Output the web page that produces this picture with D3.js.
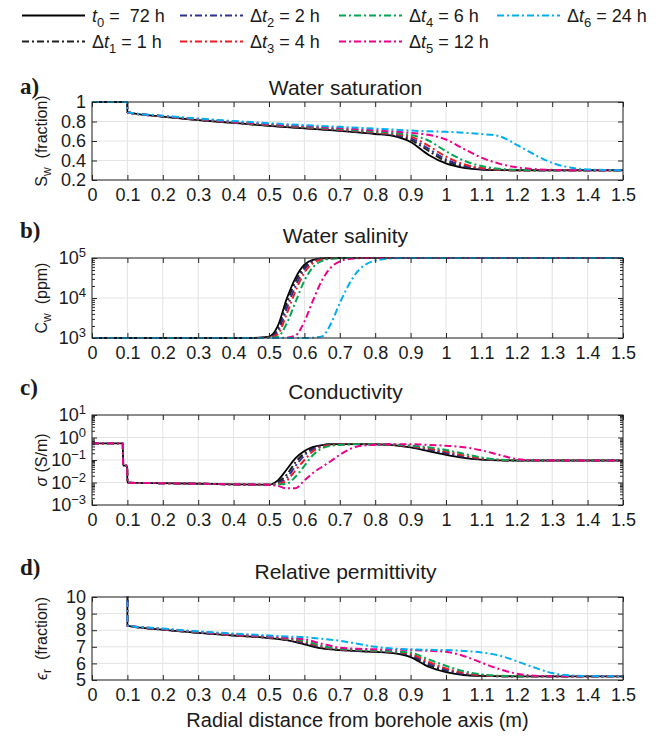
<!DOCTYPE html>
<html>
<head>
<meta charset="utf-8">
<script src="https://cdn.jsdelivr.net/npm/d3@7"></script>
<style>
  body { margin: 0; background: #fff; }
  svg { display: block; font-family: "Liberation Sans", Arial, sans-serif; }
  text { white-space: pre; }
</style>
</head>
<body>
<svg id="chart" width="664" height="736"></svg>
<script>
// legend entries (t0 then the time steps)
const seriesKeys = ["t0", "dt1", "dt2", "dt3", "dt4", "dt5", "dt6"];
const legendSubs = ["0", "1", "2", "3", "4", "5", "6"];
const legendHours = [" =  72 h", " = 1 h", " = 2 h", " = 4 h", " = 6 h", " = 12 h", " = 24 h"];

// shared x ticks (m)
const xTicks = [0, 0.1, 0.2, 0.3, 0.4, 0.5, 0.6, 0.7, 0.8, 0.9, 1, 1.1, 1.2, 1.3, 1.4, 1.5];

// a) water saturation (fraction)
const xSat = [0, 0.099, 0.1, 0.2, 0.3, 0.4, 0.5, 0.6, 0.7, 0.8, 0.85, 0.9, 0.95, 1.0, 1.05, 1.1, 1.15, 1.2, 1.25, 1.3, 1.35, 1.4, 1.5];
const satT0 = [1, 1, 0.895, 0.850, 0.815, 0.785, 0.756, 0.730, 0.703, 0.672, 0.652, 0.590, 0.460, 0.370, 0.325, 0.306, 0.301, 0.300, 0.300, 0.300, 0.300, 0.300, 0.300];
const satDt1 = [1, 1, 0.895, 0.851, 0.817, 0.787, 0.758, 0.733, 0.707, 0.677, 0.658, 0.612, 0.500, 0.392, 0.336, 0.311, 0.302, 0.300, 0.300, 0.300, 0.300, 0.300, 0.300];
const satDt2 = [1, 1, 0.895, 0.852, 0.818, 0.789, 0.761, 0.736, 0.711, 0.682, 0.665, 0.628, 0.522, 0.412, 0.347, 0.316, 0.304, 0.300, 0.300, 0.300, 0.300, 0.300, 0.300];
const satDt3 = [1, 1, 0.895, 0.853, 0.820, 0.791, 0.764, 0.740, 0.716, 0.688, 0.672, 0.645, 0.552, 0.440, 0.362, 0.322, 0.306, 0.301, 0.300, 0.300, 0.300, 0.300, 0.300];
const satDt4 = [1, 1, 0.895, 0.855, 0.822, 0.794, 0.768, 0.745, 0.722, 0.696, 0.682, 0.662, 0.605, 0.495, 0.400, 0.343, 0.315, 0.304, 0.301, 0.300, 0.300, 0.300, 0.300];
const satDt5 = [1, 1, 0.895, 0.857, 0.825, 0.798, 0.774, 0.753, 0.732, 0.710, 0.698, 0.684, 0.664, 0.615, 0.520, 0.430, 0.368, 0.330, 0.312, 0.304, 0.301, 0.300, 0.300];
const satDt6 = [1, 1, 0.895, 0.860, 0.830, 0.805, 0.783, 0.763, 0.745, 0.727, 0.717, 0.707, 0.700, 0.694, 0.685, 0.672, 0.650, 0.560, 0.460, 0.375, 0.328, 0.308, 0.300];

// b) water salinity (ppm)
const xSal = [0, 0.45, 0.5, 0.525, 0.55, 0.575, 0.6, 0.625, 0.65, 0.675, 0.7, 0.725, 0.75, 0.775, 0.8, 0.85, 0.9, 1.0, 1.5];
const salT0 = [1000, 1000, 1080, 2000, 9500, 32000, 68000, 90000, 98000, 100000, 100000, 100000, 100000, 100000, 100000, 100000, 100000, 100000, 100000];
const salDt1 = [1000, 1000, 1050, 1700, 7500, 26000, 60000, 86000, 97000, 99500, 100000, 100000, 100000, 100000, 100000, 100000, 100000, 100000, 100000];
const salDt2 = [1000, 1000, 1030, 1450, 5500, 20000, 52000, 81000, 95000, 99000, 100000, 100000, 100000, 100000, 100000, 100000, 100000, 100000, 100000];
const salDt3 = [1000, 1000, 1020, 1250, 4000, 15000, 43000, 75000, 92000, 98500, 99800, 100000, 100000, 100000, 100000, 100000, 100000, 100000, 100000];
const salDt4 = [1000, 1000, 1000, 1080, 2300, 8000, 27000, 60000, 85000, 96000, 99300, 100000, 100000, 100000, 100000, 100000, 100000, 100000, 100000];
const salDt5 = [1000, 1000, 1000, 1000, 1020, 1150, 2600, 9000, 28000, 58000, 82000, 94000, 98500, 99700, 100000, 100000, 100000, 100000, 100000];
const salDt6 = [1000, 1000, 1000, 1000, 1000, 1000, 1000, 1020, 1100, 2300, 7500, 21000, 46000, 70000, 86000, 98000, 99800, 100000, 100000];

// c) conductivity (S/m), no 24 h curve
const xCon = [0, 0.087, 0.088, 0.099, 0.1, 0.2, 0.3, 0.4, 0.5, 0.525, 0.55, 0.575, 0.6, 0.625, 0.65, 0.675, 0.7, 0.75, 0.8, 0.85, 0.9, 0.95, 1.0, 1.05, 1.1, 1.15, 1.2, 1.25, 1.3, 1.5];
const conT0 = [0.55, 0.55, 0.056, 0.056, 0.0098, 0.0093, 0.0088, 0.0083, 0.0080, 0.0125, 0.038, 0.12, 0.25, 0.38, 0.46, 0.50, 0.51, 0.51, 0.50, 0.46, 0.36, 0.25, 0.17, 0.125, 0.105, 0.097, 0.095, 0.095, 0.095, 0.095];
const conDt1 = [0.55, 0.55, 0.056, 0.056, 0.0098, 0.0093, 0.0088, 0.0083, 0.0079, 0.0105, 0.022, 0.08, 0.20, 0.34, 0.44, 0.49, 0.505, 0.51, 0.50, 0.47, 0.38, 0.28, 0.19, 0.135, 0.108, 0.098, 0.095, 0.095, 0.095, 0.095];
const conDt2 = [0.55, 0.55, 0.056, 0.056, 0.0098, 0.0093, 0.0088, 0.0083, 0.0079, 0.0095, 0.016, 0.055, 0.16, 0.30, 0.42, 0.48, 0.50, 0.51, 0.505, 0.475, 0.40, 0.30, 0.21, 0.145, 0.112, 0.099, 0.095, 0.095, 0.095, 0.095];
const conDt3 = [0.55, 0.55, 0.056, 0.056, 0.0098, 0.0093, 0.0088, 0.0083, 0.0079, 0.0088, 0.012, 0.035, 0.10, 0.25, 0.39, 0.46, 0.49, 0.51, 0.505, 0.48, 0.42, 0.33, 0.24, 0.16, 0.118, 0.101, 0.096, 0.095, 0.095, 0.095];
const conDt4 = [0.55, 0.55, 0.056, 0.056, 0.0098, 0.0093, 0.0088, 0.0083, 0.0078, 0.0082, 0.0088, 0.018, 0.055, 0.17, 0.33, 0.43, 0.47, 0.50, 0.505, 0.49, 0.44, 0.37, 0.28, 0.19, 0.13, 0.105, 0.097, 0.095, 0.095, 0.095];
const conDt5 = [0.55, 0.55, 0.056, 0.056, 0.0098, 0.0093, 0.0088, 0.0083, 0.0077, 0.0070, 0.0055, 0.0056, 0.0125, 0.027, 0.05, 0.09, 0.17, 0.40, 0.48, 0.50, 0.50, 0.47, 0.43, 0.37, 0.27, 0.17, 0.11, 0.097, 0.095, 0.095];

// d) relative permittivity (borehole values run off the top)
const xPer = [0, 0.099, 0.1, 0.2, 0.3, 0.4, 0.5, 0.55, 0.6, 0.65, 0.7, 0.75, 0.8, 0.85, 0.9, 0.95, 1.0, 1.05, 1.1, 1.15, 1.2, 1.25, 1.3, 1.35, 1.4, 1.5];
const perT0 = [80, 80, 8.28, 8.03, 7.84, 7.68, 7.53, 7.40, 7.15, 6.90, 6.80, 6.74, 6.69, 6.62, 6.38, 5.80, 5.48, 5.30, 5.25, 5.23, 5.22, 5.22, 5.22, 5.22, 5.22, 5.22];
const perDt1 = [80, 80, 8.28, 8.04, 7.85, 7.69, 7.54, 7.42, 7.20, 6.93, 6.82, 6.76, 6.71, 6.65, 6.45, 5.90, 5.55, 5.34, 5.26, 5.23, 5.22, 5.22, 5.22, 5.22, 5.22, 5.22];
const perDt2 = [80, 80, 8.28, 8.05, 7.86, 7.70, 7.55, 7.44, 7.25, 6.96, 6.84, 6.78, 6.73, 6.68, 6.50, 6.00, 5.62, 5.38, 5.27, 5.23, 5.22, 5.22, 5.22, 5.22, 5.22, 5.22];
const perDt3 = [80, 80, 8.28, 8.06, 7.87, 7.71, 7.57, 7.46, 7.30, 7.00, 6.86, 6.80, 6.75, 6.71, 6.57, 6.10, 5.70, 5.43, 5.29, 5.24, 5.22, 5.22, 5.22, 5.22, 5.22, 5.22];
const perDt4 = [80, 80, 8.28, 8.07, 7.88, 7.73, 7.59, 7.49, 7.36, 7.05, 6.88, 6.82, 6.77, 6.73, 6.65, 6.25, 5.85, 5.53, 5.34, 5.26, 5.23, 5.22, 5.22, 5.22, 5.22, 5.22];
const perDt5 = [80, 80, 8.28, 8.08, 7.90, 7.75, 7.62, 7.53, 7.45, 7.18, 6.95, 6.88, 6.85, 6.83, 6.80, 6.76, 6.70, 6.45, 6.05, 5.66, 5.38, 5.26, 5.23, 5.22, 5.22, 5.22];
const perDt6 = [80, 80, 8.28, 8.10, 7.93, 7.80, 7.68, 7.62, 7.58, 7.48, 7.36, 7.18, 7.00, 6.90, 6.85, 6.82, 6.80, 6.75, 6.66, 6.48, 6.13, 5.75, 5.42, 5.28, 5.24, 5.22];

// line styles per series
const styleOf = {
  t0: { color: "#000000", dash: null, width: 1.8 },
  dt1: { color: "#231f20", dash: "7,3,2,3", width: 2 },
  dt2: { color: "#2e3192", dash: "7,3,2,3", width: 2 },
  dt3: { color: "#ed1c24", dash: "7,3,2,3", width: 2 },
  dt4: { color: "#00a651", dash: "7,3,2,3", width: 2 },
  dt5: { color: "#ec008c", dash: "7,3,2,3", width: 2 },
  dt6: { color: "#00aeef", dash: "7,3,2,3", width: 2 }
};

const svg = d3.select("#chart");
const left = 92;
const right = 623;
const axisColor = "#262626";
const gridColor = "#e3e3e3";

const x = d3.scaleLinear().domain([0, 1.5]).range([left, right]);

const panels = [
  {
    letter: "a)", title: "Water saturation", top: 102, height: 78, titleY: 95, letterY: 94,
    log: false, domain: [0.2, 1], yTicks: [0.2, 0.4, 0.6, 0.8, 1],
    ylabel: ["S", "w", "  (fraction)"], xs: xSat,
    keys: seriesKeys, rows: [satT0, satDt1, satDt2, satDt3, satDt4, satDt5, satDt6]
  },
  {
    letter: "b)", title: "Water salinity", top: 258, height: 80, titleY: 243, letterY: 238,
    log: true, domain: [1e3, 1e5], yTicks: [1e3, 1e4, 1e5],
    ylabel: ["C", "w", "  (ppm)"], xs: xSal,
    keys: seriesKeys, rows: [salT0, salDt1, salDt2, salDt3, salDt4, salDt5, salDt6]
  },
  {
    letter: "c)", title: "Conductivity", top: 415, height: 90, titleY: 399, letterY: 395,
    log: true, domain: [1e-3, 1e1], yTicks: [1e-3, 1e-2, 1e-1, 1e0, 1e1],
    ylabel: ["σ", "", " (S/m)"], xs: xCon,
    keys: seriesKeys.slice(0, 6), rows: [conT0, conDt1, conDt2, conDt3, conDt4, conDt5]
  },
  {
    letter: "d)", title: "Relative permittivity", top: 597, height: 83, titleY: 579, letterY: 575,
    log: false, domain: [5, 10], yTicks: [5, 6, 7, 8, 9, 10],
    ylabel: ["ϵ", "r", "  (fraction)"], xs: xPer,
    keys: seriesKeys, rows: [perT0, perDt1, perDt2, perDt3, perDt4, perDt5, perDt6]
  }
];

const styleAxis = g => {
  g.select(".domain").remove();
  g.selectAll(".tick line").attr("stroke", axisColor);
  g.selectAll(".tick text")
    .attr("fill", "#1a1a1a")
    .style("font-size", "18px")
    .style("font-family", `"Liberation Sans", Arial, sans-serif`);
};

const drawPanel = (p, i) => {
  const bottom = p.top + p.height;
  const y = (p.log ? d3.scaleLog() : d3.scaleLinear())
    .domain(p.domain)
    .range([bottom, p.top]);

  const g = svg.append("g").attr("class", `panel panel${i}`);

  //grid lines
  g.append("g")
    .selectAll("line")
    .data(xTicks)
    .join("line")
    .attr("x1", d => x(d))
    .attr("x2", d => x(d))
    .attr("y1", p.top)
    .attr("y2", bottom)
    .attr("stroke", gridColor);
  g.append("g")
    .selectAll("line")
    .data(p.yTicks)
    .join("line")
    .attr("x1", left)
    .attr("x2", right)
    .attr("y1", d => y(d))
    .attr("y2", d => y(d))
    .attr("stroke", gridColor);

  //clip so off-scale values stay in the box
  svg.append("clipPath")
    .attr("id", `clip${i}`)
    .append("rect")
    .attr("x", left)
    .attr("y", p.top - 1)
    .attr("width", right - left)
    .attr("height", p.height + 2);

  const line = d3
    .line()
    .x(d => x(d[0]))
    .y(d => y(d[1]))
    .curve(d3.curveMonotoneX);

  const lines = g.append("g").attr("clip-path", `url(#clip${i})`);
  p.keys.forEach((k, j) => {
    const pts = p.xs.map((xv, n) => [xv, p.rows[j][n]]);
    lines
      .append("path")
      .attr("d", line(pts))
      .attr("fill", "none")
      .attr("stroke", styleOf[k].color)
      .attr("stroke-width", styleOf[k].width)
      .attr("stroke-dasharray", styleOf[k].dash)
      .attr("stroke-linejoin", "round");
  });

  //axes, ticks pointing inward
  const yFormat = p.log ? () => "" : d3.format("~g");
  const yAxisL = g
    .append("g")
    .attr("transform", `translate(${left},0)`)
    .call(d3.axisLeft(y).tickValues(p.yTicks).tickSize(-5).tickPadding(6).tickFormat(yFormat));
  styleAxis(yAxisL);

  if (p.log) {
    yAxisL.selectAll(".tick text").each(function (d) {
      const t = d3.select(this);
      const e = Math.round(Math.log10(d));
      t.append("tspan").text("10");
      t.append("tspan")
        .attr("dy", "-0.55em")
        .style("font-size", "13px")
        .text(e < 0 ? `\u2212${-e}` : `${e}`);
    });
    //minor log ticks on both sides
    const minors = [];
    for (let e = Math.log10(p.domain[0]); e < Math.log10(p.domain[1]); e++) {
      for (let m = 2; m <= 9; m++) minors.push(m * Math.pow(10, e));
    }
    g.append("g")
      .attr("transform", `translate(${left},0)`)
      .call(d3.axisLeft(y).tickValues(minors).tickSize(-3).tickFormat(""))
      .call(styleAxis);
    g.append("g")
      .attr("transform", `translate(${right},0)`)
      .call(d3.axisRight(y).tickValues(minors).tickSize(-3).tickFormat(""))
      .call(styleAxis);
  }

  g.append("g")
    .attr("transform", `translate(${right},0)`)
    .call(d3.axisRight(y).tickValues(p.yTicks).tickSize(-5).tickFormat(""))
    .call(styleAxis);

  g.append("g")
    .attr("transform", `translate(0,${bottom})`)
    .call(d3.axisBottom(x).tickValues(xTicks).tickSize(-5).tickPadding(8).tickFormat(d3.format("~g")))
    .call(styleAxis);
  g.append("g")
    .attr("transform", `translate(0,${p.top})`)
    .call(d3.axisTop(x).tickValues(xTicks).tickSize(-5).tickFormat(""))
    .call(styleAxis);

  //box
  g.append("rect")
    .attr("x", left)
    .attr("y", p.top)
    .attr("width", right - left)
    .attr("height", p.height)
    .attr("fill", "none")
    .attr("stroke", axisColor)
    .attr("stroke-width", 1);

  //title and panel letter
  g.append("text")
    .attr("x", (left + right) / 2 - 12)
    .attr("y", p.titleY)
    .attr("text-anchor", "middle")
    .style("font-size", "21px")
    .attr("fill", "#1a1a1a")
    .text(p.title);
  g.append("text")
    .attr("x", 20)
    .attr("y", p.letterY)
    .style("font-family", `"Liberation Serif", "Times New Roman", serif`)
    .style("font-weight", "bold")
    .style("font-size", "23px")
    .attr("fill", "#1a1a1a")
    .text(p.letter);

  //y label with subscript
  const yl = g
    .append("text")
    .attr("transform", `translate(47,${p.top + p.height / 2}) rotate(-90)`)
    .attr("text-anchor", "middle")
    .style("font-size", "16px")
    .attr("fill", "#1a1a1a");
  yl.append("tspan")
    .style("font-style", p.ylabel[0] === "S" || p.ylabel[0] === "C" ? "normal" : "italic")
    .text(p.ylabel[0]);
  if (p.ylabel[1]) {
    yl.append("tspan").attr("dy", 4).style("font-size", "12px").text(p.ylabel[1]);
    yl.append("tspan").attr("dy", -4).text(p.ylabel[2]);
  } else {
    yl.append("tspan").text(p.ylabel[2]);
  }
};

panels.forEach(drawPanel);

//x axis title
svg.append("text")
  .attr("x", (left + right) / 2)
  .attr("y", 727)
  .attr("text-anchor", "middle")
  .style("font-size", "20px")
  .attr("fill", "#1a1a1a")
  .text("Radial distance from borehole axis (m)");

//legend, two rows filled column by column
const legendCols = [22, 180, 339, 497];
const legend = svg.append("g").attr("class", "legend");
seriesKeys.forEach((k, i) => {
  const lx = legendCols[Math.floor(i / 2)];
  const ly = i % 2 === 0 ? 15.5 : 41.5;
  const s = styleOf[k];
  legend
    .append("line")
    .attr("x1", lx)
    .attr("x2", lx + 63)
    .attr("y1", ly)
    .attr("y2", ly)
    .attr("stroke", s.color)
    .attr("stroke-width", s.width)
    .attr("stroke-dasharray", s.dash);
  const t = legend
    .append("text")
    .attr("x", lx + 70)
    .attr("y", ly + 6.5)
    .style("font-size", "18px")
    .attr("fill", "#1a1a1a");
  if (i > 0) t.append("tspan").text("Δ");
  t.append("tspan").style("font-style", "italic").text("t");
  t.append("tspan").attr("dy", 5).style("font-size", "13px").text(legendSubs[i]);
  t.append("tspan").attr("dy", -5).text(legendHours[i]);
});
</script>
</body>
</html>
